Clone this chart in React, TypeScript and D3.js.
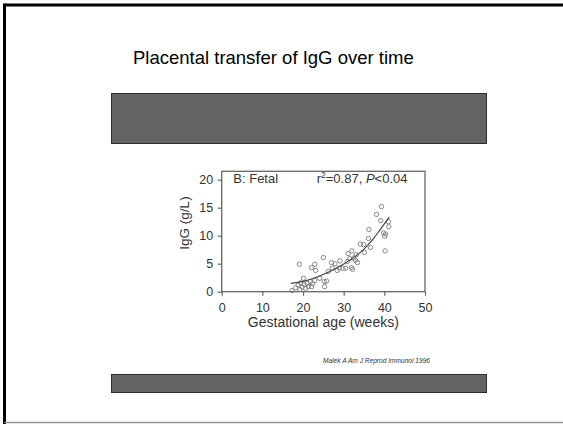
import React from 'react'
import * as d3 from 'd3'

// gestational age (weeks), fetal IgG (g/L)
const ageWeeks = [
  17.3, 18.2, 18.8, 19.2, 19.4, 19.8, 20.1, 20.3, 20.6, 21.0, 21.3, 21.8, 22.1, 22.3, 22.9, 19.1, 22.1, 22.9, 23.1,
  25.0, 25.2, 25.3, 25.8, 24.1, 26.2, 27.2, 27.0, 27.9, 28.4, 28.9, 29.1, 29.8, 30.5, 30.9, 31.1, 31.5, 31.9, 32.0,
  32.2, 32.5, 32.9, 33.1, 33.4,
  34.1, 34.9, 35.1, 36.1, 36.2, 36.6, 38.1, 39.1, 39.3, 39.8, 40.1, 40.2, 40.3, 41.0, 41.1,
]
const igG = [
  0.2, 0.7, 1.2, 0.4, 1.6, 0.8, 2.4, 1.3, 0.6, 1.5, 0.9, 1.8, 0.9, 1.4, 2.0, 4.9, 4.3, 4.9, 3.8,
  6.1, 1.8, 0.9, 1.9, 2.4, 3.6, 4.2, 5.2, 5.0, 3.8, 4.2, 5.5, 4.2, 4.2, 5.4, 6.8, 5.9, 4.3, 7.3,
  4.0, 6.0, 5.6, 6.6, 5.2,
  8.5, 8.4, 7.0, 9.5, 11.1, 7.9, 13.8, 12.7, 15.2, 10.5, 9.9, 7.3, 10.3, 12.5, 11.6,
]

// regression curve as it is drawn in the figure
const fitWeeks = [17, 20, 23, 26.6, 30, 33, 35, 37, 39, 41.2]
const fitIgG = [1.5, 1.85, 2.5, 3.6, 4.95, 6.4, 7.6, 9.2, 11.1, 13.3]

const xTicks = [0, 10, 20, 30, 40, 50]
const yTicks = [0, 5, 10, 15, 20]

const title = 'Placental transfer of IgG over time'
const citation = 'Malek A Am J Reprod Immunol 1996'

function Chart() {
  const svgRef = React.useRef(null)

  React.useEffect(() => {
    const svg = d3.select(svgRef.current)
    svg.selectAll('*').remove()

    const plot = { left: 221.7, right: 425, top: 171.3, bottom: 291.7 }
    const x = d3.scaleLinear().domain([0, 50]).range([plot.left, plot.right])
    const y = d3.scaleLinear().domain([0, 21.5]).range([plot.bottom, plot.top])

    // slide background and frame
    svg.append('rect').attr('width', 563).attr('height', 424).attr('fill', 'white')
    svg.append('line').attr('x1', 4.5).attr('x2', 563).attr('y1', 5).attr('y2', 5)
      .attr('stroke', 'black').attr('stroke-width', 3)
    svg.append('line').attr('x1', 4.5).attr('x2', 4.5).attr('y1', 3.5).attr('y2', 424)
      .attr('stroke', 'black').attr('stroke-width', 3)
    svg.append('line').attr('x1', 4.5).attr('x2', 563).attr('y1', 422.5).attr('y2', 422.5)
      .attr('stroke', '#999').attr('stroke-width', 1.5)

    svg.append('text')
      .attr('x', 133).attr('y', 63.5)
      .attr('font-family', 'Liberation Sans, Arial, sans-serif')
      .attr('font-size', 18.5)
      .attr('fill', 'black')
      .text(title)

    // grey placeholder boxes
    svg.append('rect').attr('x', 111.5).attr('y', 93.5).attr('width', 375).attr('height', 50)
      .attr('fill', '#646464').attr('stroke', '#2e2e2e').attr('stroke-width', 1)
    svg.append('rect').attr('x', 111.5).attr('y', 374.5).attr('width', 375).attr('height', 18)
      .attr('fill', '#646464').attr('stroke', '#2e2e2e').attr('stroke-width', 1)

    const font = 'Liberation Sans, Arial, sans-serif'
    const ink = '#333'

    // axes
    const gx = svg.append('g')
      .attr('transform', `translate(0, ${plot.bottom})`)
      .call(d3.axisBottom(x).tickValues(xTicks).tickSize(4).tickSizeOuter(0).tickPadding(7.5))
    const gy = svg.append('g')
      .attr('transform', `translate(${plot.left}, 0)`)
      .call(d3.axisLeft(y).tickValues(yTicks).tickSize(4).tickSizeOuter(0).tickPadding(4.5))
    ;[gx, gy].forEach((g) => {
      g.select('.domain').remove()
      g.selectAll('line').attr('stroke', '#666').attr('stroke-width', 1.2)
      g.selectAll('text').attr('font-family', font).attr('font-size', 12.5).attr('fill', ink)
    })

    svg.append('rect')
      .attr('x', plot.left).attr('y', plot.top)
      .attr('width', plot.right - plot.left).attr('height', plot.bottom - plot.top)
      .attr('fill', 'none').attr('stroke', '#666').attr('stroke-width', 1.3)

    // axis labels
    svg.append('text')
      .attr('x', (plot.left + plot.right) / 2).attr('y', 327)
      .attr('text-anchor', 'middle')
      .attr('font-family', font).attr('font-size', 14).attr('fill', ink)
      .text('Gestational age (weeks)')
    svg.append('text')
      .attr('transform', `translate(189, 223) rotate(-90)`)
      .attr('text-anchor', 'middle')
      .attr('font-family', font).attr('font-size', 13.5).attr('fill', ink)
      .text('IgG (g/L)')

    // in-plot annotations
    svg.append('text')
      .attr('x', 233.3).attr('y', 182.5)
      .attr('font-family', font).attr('font-size', 13).attr('fill', ink)
      .text('B: Fetal')
    const stat = svg.append('text')
      .attr('x', 316.7).attr('y', 182.5)
      .attr('font-family', font).attr('font-size', 13).attr('fill', ink)
    stat.append('tspan').text('r')
    stat.append('tspan').attr('font-size', 8.5).attr('dy', -5).text('2')
    stat.append('tspan').attr('dy', 5).text('=0.87, ')
    stat.append('tspan').attr('font-style', 'italic').text('P')
    stat.append('tspan').text('<0.04')

    // scatter
    const points = ageWeeks.map((a, i) => ({ a, v: igG[i] }))
    svg.append('g')
      .selectAll('circle')
      .data(points)
      .enter()
      .append('circle')
      .attr('cx', (d) => x(d.a))
      .attr('cy', (d) => y(d.v))
      .attr('r', 2.2)
      .attr('fill', 'none')
      .attr('stroke', '#7a7a7a')
      .attr('stroke-width', 0.9)

    // fitted curve
    const fit = fitWeeks.map((a, i) => [a, fitIgG[i]])
    const line = d3.line()
      .x((d) => x(d[0]))
      .y((d) => y(d[1]))
      .curve(d3.curveMonotoneX)
    svg.append('path')
      .attr('d', line(fit))
      .attr('fill', 'none')
      .attr('stroke', '#444')
      .attr('stroke-width', 1.2)

    // reference
    svg.append('text')
      .attr('x', 323).attr('y', 363)
      .attr('font-family', 'Liberation Sans, Arial, sans-serif')
      .attr('font-style', 'italic')
      .attr('font-size', 6.5)
      .attr('textLength', 107)
      .attr('lengthAdjust', 'spacingAndGlyphs')
      .attr('fill', '#333')
      .text(citation)
  }, [])

  return (
    <svg
      ref={svgRef}
      width={563}
      height={424}
      style={{ position: 'absolute', left: 0, top: 0, display: 'block' }}
    ></svg>
  )
}

export default function App() {
  return <Chart />
}
